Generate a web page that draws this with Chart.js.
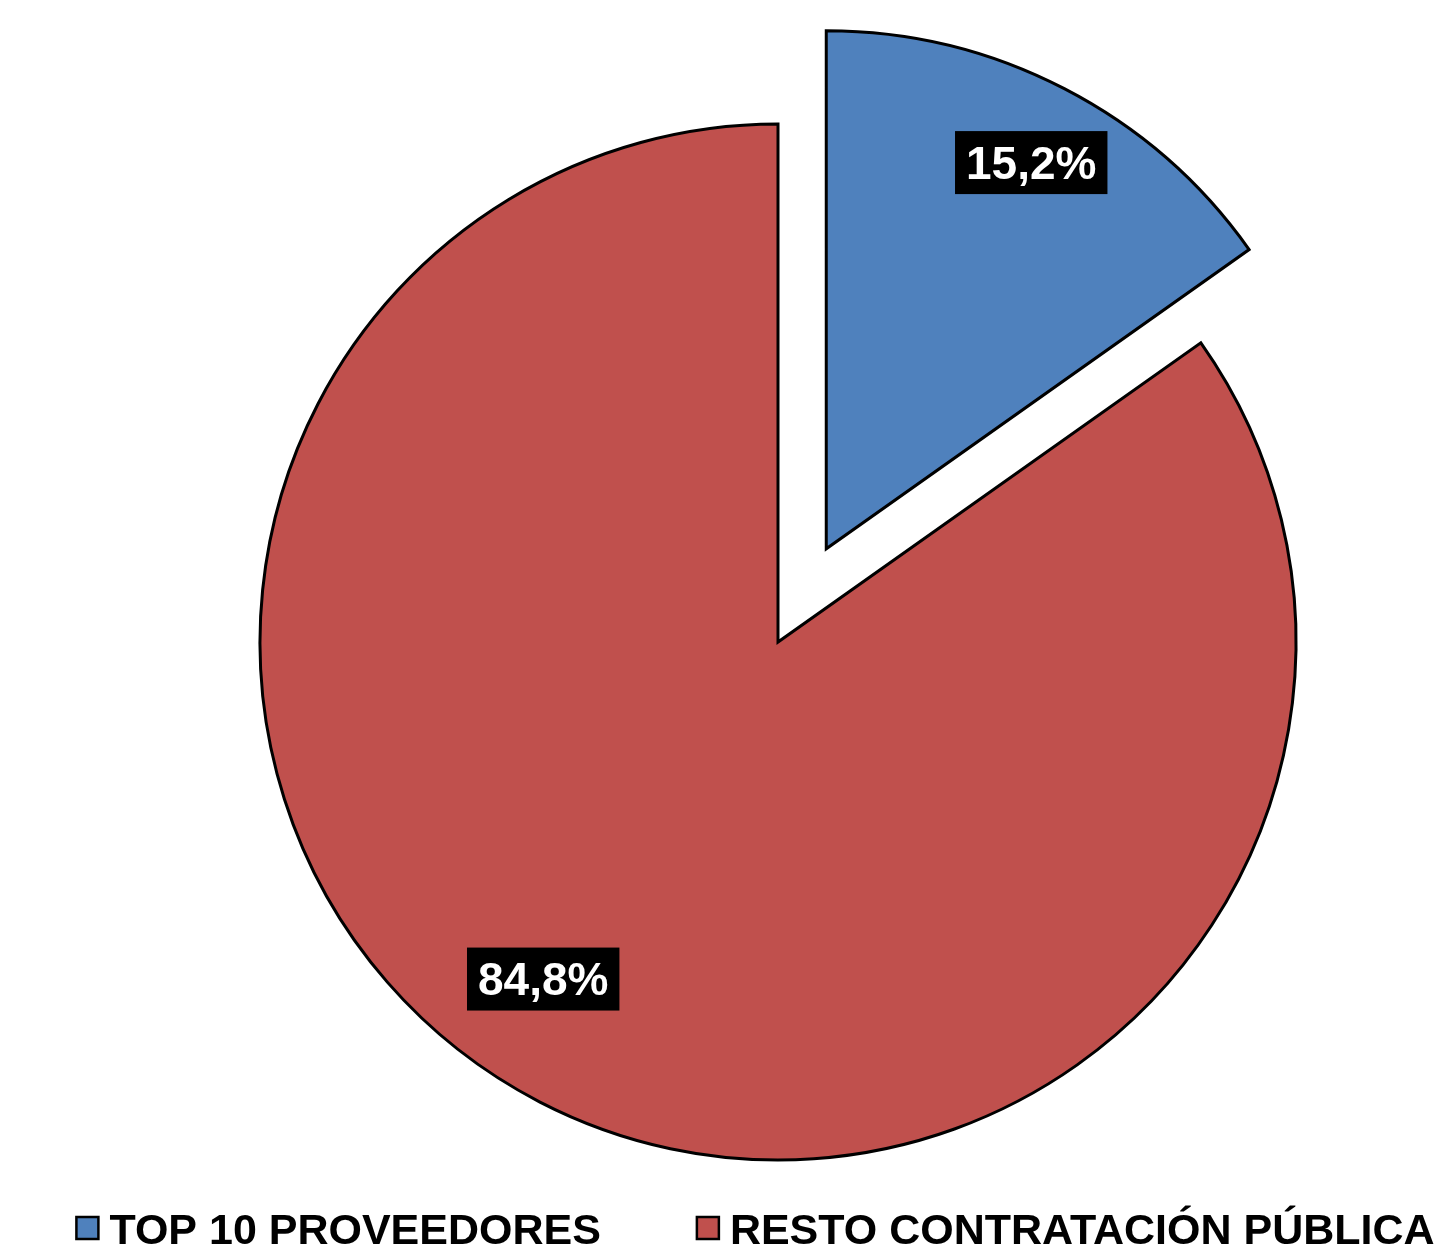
<!DOCTYPE html>
<html>
<head>
<meta charset="utf-8">
<script src="https://cdn.jsdelivr.net/npm/chart.js@4.4.1/dist/chart.umd.min.js"></script>
<style>
  html, body { margin: 0; padding: 0; background: #fff; }
  #wrap { width: 1449px; height: 1256px; }
</style>
</head>
<body>
<div id="wrap"><canvas id="pie"></canvas></div>
<script>
const categories = ['TOP 10 PROVEEDORES', 'RESTO CONTRATACIÓN PÚBLICA'];
const shares = [15.2, 84.8];
const valueLabels = ['15,2%', '84,8%'];
const colors = ['#4F81BD', '#C0504D'];

const FONT = '"Liberation Sans", Arial, Helvetica, sans-serif';
const explode = [105, 0]; // px each slice is pulled out of the centre

// pull slices out by moving their centre, so the radius stays the same for both
const explodeSlices = {
    id: 'explodeSlices',
    afterDatasetUpdate(chart, args) {
        args.meta.data.forEach((arc, i) => {
            const mid = (arc.startAngle + arc.endAngle) / 2;
            arc.x += Math.cos(mid) * explode[i];
            arc.y += Math.sin(mid) * explode[i];
        });
    }
};

// black boxes with white percentages
const sliceLabels = {
    id: 'sliceLabels',
    afterDatasetsDraw(chart) {
        const ctx = chart.ctx;
        const arcs = chart.getDatasetMeta(0).data;
        const frac = [0.844, 0.793];
        const nudge = [0.6, 7.5];
        ctx.save();
        ctx.font = 'bold 46px ' + FONT;
        ctx.textAlign = 'center';
        ctx.textBaseline = 'alphabetic';
        arcs.forEach((arc, i) => {
            const mid = (arc.startAngle + arc.endAngle) / 2;
            const a = mid + nudge[i] * Math.PI / 180;
            const r = arc.outerRadius * frac[i];
            const lx = arc.x + Math.cos(a) * r;
            const ly = arc.y + Math.sin(a) * r;
            const w = ctx.measureText(valueLabels[i]).width + 22;
            const h = 63;
            ctx.fillStyle = '#000';
            ctx.fillRect(lx - w / 2, ly - h / 2, w, h);
            ctx.fillStyle = '#fff';
            ctx.fillText(valueLabels[i], lx, ly + 16);
        });
        ctx.restore();
    }
};

// legend row along the bottom
const bottomLegend = {
    id: 'bottomLegend',
    afterDraw(chart) {
        const ctx = chart.ctx;
        const box = 22, gapText = 11, gapItem = 96;
        ctx.save();
        ctx.font = 'bold 43px ' + FONT;
        ctx.textBaseline = 'alphabetic';
        ctx.textAlign = 'left';
        const widths = categories.map(t => ctx.measureText(t).width);
        let total = 0;
        widths.forEach((w, i) => { total += box + gapText + w + (i ? gapItem : 0); });
        let x = chart.width / 2 + 31 - total / 2;
        const base = chart.height - 12;
        categories.forEach((t, i) => {
            const top = base - 16 - box / 2;
            ctx.fillStyle = colors[i];
            ctx.fillRect(x, top, box, box);
            ctx.lineWidth = 2.5;
            ctx.strokeStyle = '#000';
            ctx.strokeRect(x, top, box, box);
            ctx.fillStyle = '#000';
            ctx.fillText(t, x + box + gapText, base);
            x += box + gapText + widths[i] + gapItem;
        });
        ctx.restore();
    }
};

new Chart(document.getElementById('pie').getContext('2d'), {
    type: 'pie',
    data: {
        labels: categories,
        datasets: [{
            data: shares,
            backgroundColor: colors,
            borderColor: '#000',
            borderWidth: 3,
            borderJoinStyle: 'miter',
            clip: false
        }]
    },
    options: {
        responsive: true,
        maintainAspectRatio: false,
        animation: false,
        radius: 518,
        layout: { padding: { left: 107, right: 0, top: 165, bottom: 137 } },
        plugins: {
            legend: { display: false },
            tooltip: { enabled: false }
        }
    },
    plugins: [explodeSlices, sliceLabels, bottomLegend]
});
</script>
</body>
</html>
